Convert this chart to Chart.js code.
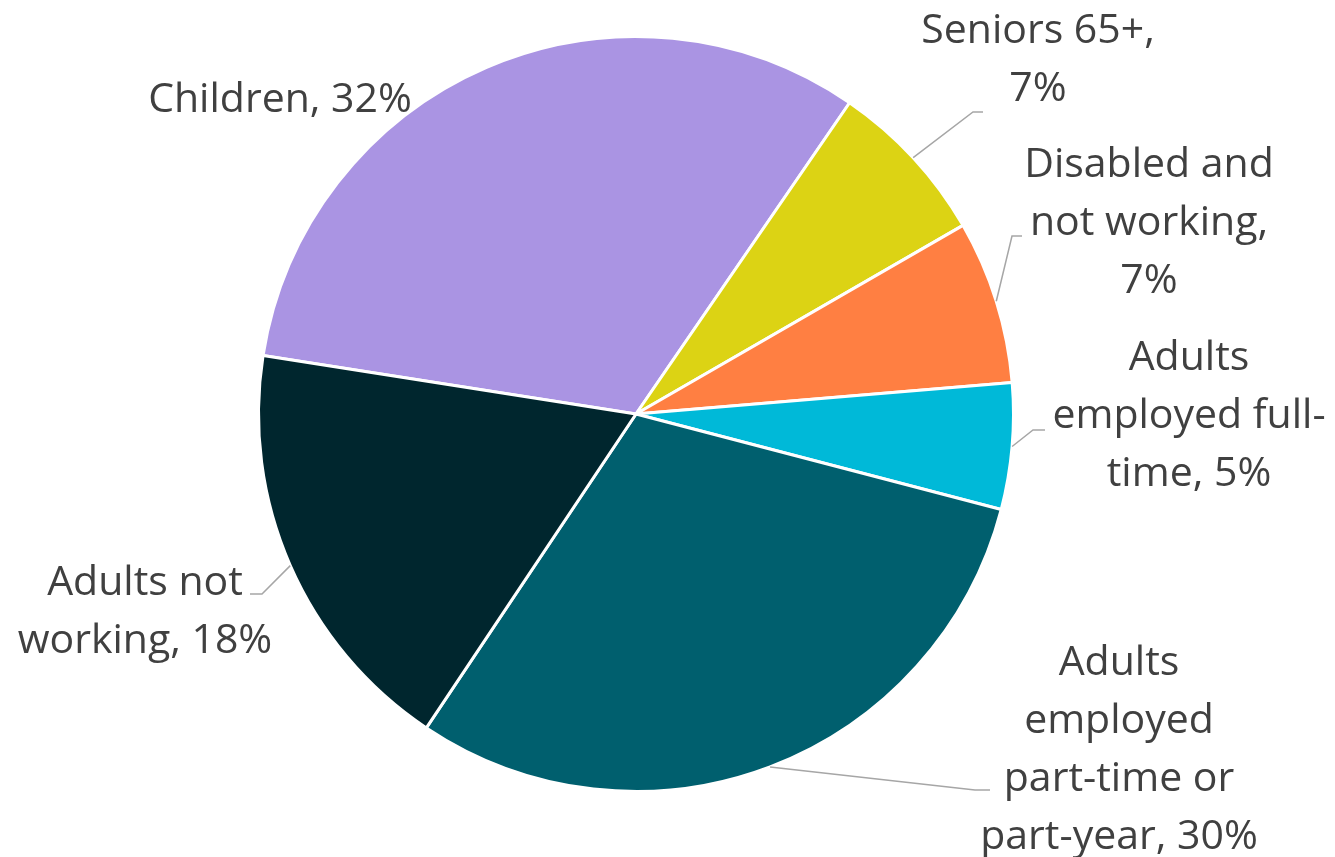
<!DOCTYPE html>
<html>
<head>
<meta charset="utf-8">
<script src="https://cdn.jsdelivr.net/npm/chart.js@4"></script>
<style>
    html, body { margin: 0; padding: 0; background: #fff; }
    canvas { display: block; }
</style>
</head>
<body>
<canvas id="chart" width="1335" height="857"></canvas>
<script>
const categories = ['Children', 'Seniors 65+', 'Disabled and not working', 'Adults employed full-time', 'Adults employed part-time or part-year', 'Adults not working']
const shares = [32.1, 7.1, 7.0, 5.4, 30.3, 18.1]
const labelLines = [
    ['Children, 32%'],
    ['Seniors 65+,', '7%'],
    ['Disabled and', 'not working,', '7%'],
    ['Adults', 'employed full-', 'time, 5%'],
    ['Adults', 'employed', 'part-time or', 'part-year, 30%'],
    ['Adults not', 'working, 18%'],
]
const colors = ['#AA94E3', '#DCD314', '#FF7F42', '#00B9D8', '#005F6E', '#00262E']

// label placement, offsets from the pie centre (x = text centre, y = first baseline)
const labelLayout = [
    { x: -356, y: -302, leader: null },
    { x: 402, y: -371, leader: [[337, -302], [347, -302]] },
    { x: 513, y: -237, leader: [[376, -178], [386, -178]] },
    { x: 553, y: -44, leader: [[397, 16], [409, 16]] },
    { x: 483, y: 261, leader: [[339, 376], [354, 376]] },
    { x: -491, y: 181, leader: [[-374, 180], [-386, 180]] },
]

const FONT = '41px "Open Sans"'
const LINE_HEIGHT = 58

const pieLabels = {
    id: 'pieLabels',
    afterDatasetsDraw(chart) {
        const { ctx } = chart
        const arcs = chart.getDatasetMeta(0).data
        ctx.save()
        arcs.forEach((arc, i) => {
            const { x, y, startAngle, endAngle, outerRadius } = arc.getProps(['x', 'y', 'startAngle', 'endAngle', 'outerRadius'], true)
            const layout = labelLayout[i]
            if (layout.leader) {
                const mid = (startAngle + endAngle) / 2
                ctx.beginPath()
                ctx.moveTo(x + Math.cos(mid) * outerRadius, y + Math.sin(mid) * outerRadius)
                layout.leader.forEach(([dx, dy]) => ctx.lineTo(x + dx, y + dy))
                ctx.strokeStyle = '#A6A6A6'
                ctx.lineWidth = 1.5
                ctx.stroke()
            }
            ctx.font = FONT
            ctx.fillStyle = '#404040'
            ctx.textAlign = 'center'
            ctx.textBaseline = 'alphabetic'
            labelLines[i].forEach((line, n) => {
                ctx.fillText(line, x + layout.x, y + layout.y + n * LINE_HEIGHT)
            })
        })
        ctx.restore()
    }
}

document.fonts.load(FONT).finally(() => {
    new Chart(document.getElementById('chart'), {
        type: 'pie',
        data: {
            labels: categories,
            datasets: [{
                data: shares,
                backgroundColor: colors,
                borderColor: '#FFFFFF',
                borderWidth: 3,
            }]
        },
        options: {
            responsive: false,
            devicePixelRatio: 1,
            animation: false,
            rotation: -81.1,
            layout: { padding: { left: 257, right: 320, top: 35, bottom: 64 } },
            plugins: {
                legend: { display: false },
                tooltip: { enabled: false },
            },
        },
        plugins: [pieLabels],
    })
})
</script>
</body>
</html>
